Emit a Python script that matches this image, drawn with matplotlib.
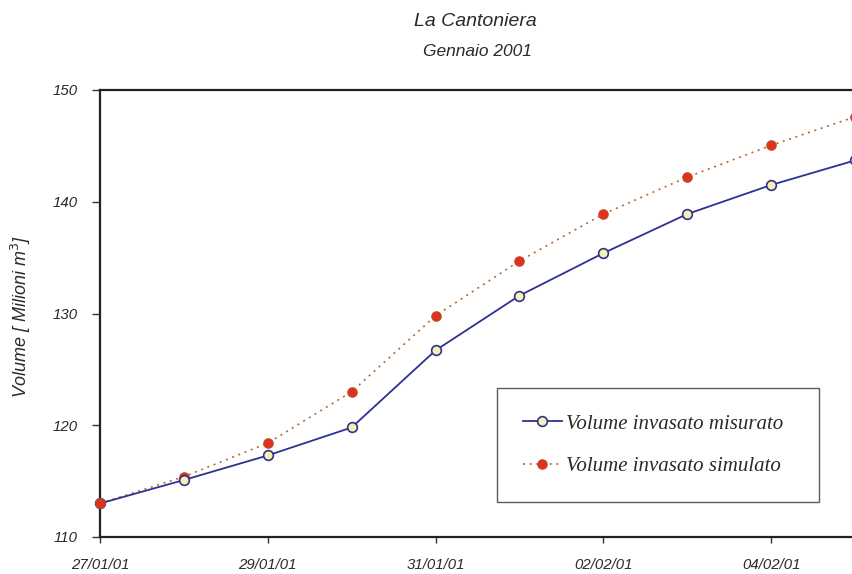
import matplotlib
matplotlib.use("Agg")
import matplotlib.pyplot as plt
from datetime import datetime

# Daily reservoir volumes (million m^3)
dates = ["2001-01-27", "2001-01-28", "2001-01-29", "2001-01-30", "2001-01-31",
         "2001-02-01", "2001-02-02", "2001-02-03", "2001-02-04", "2001-02-05"]
misurato = [113.0, 115.1, 117.3, 119.8, 126.7, 131.6, 135.4, 138.9, 141.5, 143.7]
simulato = [113.0, 115.4, 118.4, 123.0, 129.8, 134.7, 138.9, 142.2, 145.05, 147.6]

tick_dates = ["2001-01-27", "2001-01-29", "2001-01-31", "2001-02-02", "2001-02-04"]
tick_labels = ["27/01/01", "29/01/01", "31/01/01", "02/02/01", "04/02/01"]
y_ticks = [110, 120, 130, 140, 150]

x = [datetime.strptime(d, "%Y-%m-%d") for d in dates]
xt = [datetime.strptime(d, "%Y-%m-%d") for d in tick_dates]

sans = "Liberation Sans"
serif = "Liberation Serif"
ink = "#2a2a2a"

fig = plt.figure(figsize=(8.52, 5.74), dpi=100)
ax = fig.add_axes([100 / 852, 37 / 574, 755 / 852, 447 / 574])

ax.plot(x, simulato, linestyle=(0, (1.2, 2.8)), color="#b8672e", linewidth=1.2,
        marker="o", markersize=6.8, markerfacecolor="#e0301e",
        markeredgecolor="#c04a28", markeredgewidth=0.8,
        label="Volume invasato simulato", zorder=3, clip_on=False)
ax.plot(x, misurato, linestyle="-", color="#2e3192", linewidth=1.3,
        marker="o", markersize=7.0, markerfacecolor="#f7f0b0",
        markeredgecolor="#2e3192", markeredgewidth=1.2,
        label="Volume invasato misurato", zorder=4, clip_on=False)
# starting point: simulated marker drawn over the measured one
ax.plot(x[:1], simulato[:1], linestyle="none", marker="o", markersize=6.8,
        markerfacecolor="#e0301e", markeredgecolor="#c04a28",
        markeredgewidth=0.8, zorder=5, clip_on=False)

ax.set_xlim(x[0], datetime(2001, 2, 5))
ax.set_ylim(110, 150)
ax.set_xticks(xt)
ax.set_xticklabels(tick_labels)
ax.set_yticks(y_ticks)
ax.set_yticklabels([str(v) for v in y_ticks])

for lbl in ax.get_xticklabels() + ax.get_yticklabels():
    lbl.set_fontfamily(sans)
    lbl.set_fontstyle("italic")
    lbl.set_fontsize(10.8)
    lbl.set_color(ink)

ax.tick_params(axis="x", direction="out", length=4, width=1, pad=11, colors="#333333",
               labelcolor=ink)
ax.tick_params(axis="y", direction="out", length=6, width=1, pad=10, colors="#333333",
               labelcolor=ink)
for s in ax.spines.values():
    s.set_linewidth(1.6)
    s.set_color("#222222")

ax.set_ylabel("Volume [ Milioni m$^3$]", fontfamily=sans, fontstyle="italic",
              fontsize=13, color=ink)
ax.yaxis.set_label_coords((33 - 100) / 755, (537 - 316) / 447)

fig.text(475 / 852, 1 - 22 / 574, "La Cantoniera", ha="center", va="center",
         fontfamily=sans, fontstyle="italic", fontsize=14, color=ink)
fig.text(477 / 852, 1 - 52 / 574, "Gennaio 2001", ha="center", va="center",
         fontfamily=sans, fontstyle="italic", fontsize=12.5, color=ink)

handles, labels = ax.get_legend_handles_labels()
order = [1, 0]
leg = ax.legend([handles[i] for i in order], [labels[i] for i in order],
                loc="upper left", mode="expand",
                bbox_to_anchor=((497 - 100) / 755, (537 - 388) / 447,
                                (819 - 497) / 755, 0),
                prop={"family": serif, "style": "italic", "size": 15},
                frameon=True, fancybox=False, edgecolor="#333333",
                borderpad=1.25, labelspacing=1.1, handlelength=1.85,
                handletextpad=0.2, borderaxespad=0)
leg.get_frame().set_linewidth(1.0)
for t in leg.get_texts():
    t.set_color(ink)

fig.savefig("out.png", dpi=100)
